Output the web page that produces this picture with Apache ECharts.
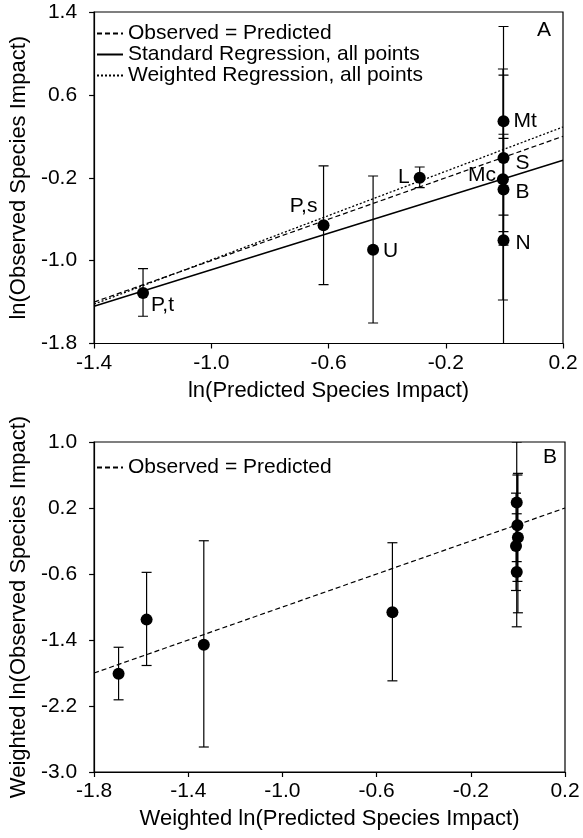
<!DOCTYPE html>
<html><head><meta charset="utf-8">
<script src="https://cdn.jsdelivr.net/npm/echarts@6/dist/echarts.min.js"></script>
<style>html,body{margin:0;padding:0;background:#fff}#c{width:583px;height:838px}</style>
</head><body><div id="c"></div>
<script>
// ---------- Panel A data ----------
const aNames = ['P,t','P,s','U','L','Mt','S','Mc','B','N'];
const aX     = [-1.233,-0.617,-0.448,-0.289,-0.003,-0.003,-0.005,-0.003,-0.003];
const aY     = [-1.312,-0.659,-0.894,-0.199, 0.345,-0.010,-0.215,-0.314,-0.804];
const aLow   = [-1.537,-1.232,-1.602,-0.295,-0.560,-0.720,-1.380,-0.850,-1.800];
const aHigh  = [-1.077,-0.086,-0.183,-0.096, 1.260, 0.790, 0.850, 0.220, 0.180];
const aOneToOne = [[-1.4,-1.4],[0.2,0.2]];
const aStdReg   = [[-1.4,-1.441],[0.2,-0.031]];
const aWtReg    = [[-1.4,-1.420],[0.2,0.290]];
const aXTicks = [-1.4,-1.0,-0.6,-0.2,0.2];
const aYTicks = [-1.8,-1.0,-0.2,0.6,1.4];
// ---------- Panel B data ----------
const bX    = [-1.696,-1.577,-1.334,-0.533,-0.005,-0.002, 0.000,-0.008,-0.005];
const bY    = [-1.810,-1.153,-1.459,-1.064, 0.266,-0.008,-0.157,-0.262,-0.576];
const bLow  = [-2.125,-1.709,-2.697,-1.895,-0.450,-0.690,-1.070,-0.800,-1.240];
const bHigh = [-1.488,-0.580,-0.197,-0.221, 1.000, 0.600, 0.620, 0.380, 0.130];
const bOneToOne = [[-1.8,-1.8],[0.2,0.2]];
const bXTicks = [-1.8,-1.4,-1.0,-0.6,-0.2,0.2];
const bYTicks = [-3.0,-2.2,-1.4,-0.6,0.2,1.0];

const legendA = ['Observed = Predicted','Standard Regression, all points','Weighted Regression, all points'];
const legendB = ['Observed = Predicted'];

// ---------- styling ----------
const FONT = "'Liberation Sans', Arial, Helvetica, sans-serif";
const labelPlace = {
  'P,t': {position:'right', distance:2, offset:[0,12]},
  'P,s': {position:'top', distance:3, offset:[-20,0]},
  'U':   {position:'right', distance:4, offset:[0,2]},
  'L':   {position:'left', distance:4},
  'Mt':  {position:'right', distance:4},
  'S':   {position:'right', distance:6, offset:[0,5]},
  'Mc':  {position:'left', distance:1, offset:[0,-4]},
  'B':   {position:'right', distance:6, offset:[0,3]},
  'N':   {position:'right', distance:6, offset:[0,3]}
};

function errRender(params, api){
  const x = api.value(0), lo = api.value(1), hi = api.value(2);
  const pLo = api.coord([x, lo]), pHi = api.coord([x, hi]);
  const w = 5;
  const style = {stroke:'#000', lineWidth:1.2, fill:null};
  return {type:'group', children:[
    {type:'line', shape:{x1:pLo[0],y1:pLo[1],x2:pHi[0],y2:pHi[1]}, style},
    {type:'line', shape:{x1:pLo[0]-w,y1:pLo[1],x2:pLo[0]+w,y2:pLo[1]}, style},
    {type:'line', shape:{x1:pHi[0]-w,y1:pHi[1],x2:pHi[0]+w,y2:pHi[1]}, style}
  ]};
}

function axis(gridIndex, min, max, ticks, isY, name, nameGap){
  return {
    type:'value', gridIndex, min, max,
    name, nameLocation:'middle', nameGap, nameRotate: isY ? 90 : 0,
    nameTextStyle:{fontFamily:FONT, fontSize:22, color:'#000'},
    axisLine:{show:true, onZero:false, lineStyle:{color:'#000', width:1.2}},
    axisTick:{show:true, inside:false, length:5, customValues:ticks, lineStyle:{color:'#000', width:1.2}},
    axisLabel:{customValues:ticks, formatter:v => v.toFixed(1), color:'#000', fontFamily:FONT, fontSize:21, margin: isY ? 17 : 9},
    splitLine:{show:false}
  };
}

const errA = aX.map((x,i)=>[x, aLow[i], aHigh[i]]);
const errB = bX.map((x,i)=>[x, bLow[i], bHigh[i]]);
const ptsA = aX.map((x,i)=>({value:[x, aY[i]], name:aNames[i],
  label:Object.assign({show:true, formatter:aNames[i], color:'#000', fontFamily:FONT, fontSize:21}, labelPlace[aNames[i]])}));
const ptsB = bX.map((x,i)=>[x, bY[i]]);

const lineBase = {type:'line', symbol:'none', silent:true, clip:true, animation:false};
const legendBase = {orient:'vertical', left:96, itemWidth:26, itemHeight:10, itemGap:0, padding:0, selectedMode:false,
  itemStyle:{opacity:0}, textStyle:{fontSize:21, fontFamily:FONT, color:'#000', lineHeight:19}};

const option = {
  animation:false,
  backgroundColor:'#fff',
  textStyle:{fontFamily:FONT},
  grid:[
    {left:83, top:12, width:480, height:331.5, show:true, borderColor:'#000', borderWidth:1.2, containLabel:false},
    {left:86, top:442, width:479, height:330, show:true, borderColor:'#000', borderWidth:1.2, containLabel:false}
  ],
  xAxis:[
    axis(0, -1.4, 0.2, aXTicks, false, 'ln(Predicted Species Impact)', 36),
    axis(1, -1.8, 0.2, bXTicks, false, 'Weighted ln(Predicted Species Impact)', 36)
  ],
  yAxis:[
    axis(0, -1.8, 1.4, aYTicks, true, 'ln(Observed Species Impact)', 51),
    axis(1, -3.0, 1.0, bYTicks, true, 'Weighted ln(Observed Species Impact)', 56)
  ],
  legend:[
    Object.assign({}, legendBase, {top:23, data:legendA}),
    Object.assign({}, legendBase, {top:457, data:legendB})
  ],
  graphic:[
    {type:'text', left:537, top:20, style:{text:'A', fontSize:21, fontFamily:FONT, fill:'#000'}},
    {type:'text', left:543, top:447, style:{text:'B', fontSize:21, fontFamily:FONT, fill:'#000'}}
  ],
  series:[
    Object.assign({}, lineBase, {name:legendA[0], xAxisIndex:0, yAxisIndex:0, data:aOneToOne,
      lineStyle:{color:'#000', width:1.2, type:[5,3]}, itemStyle:{color:'#000'}}),
    Object.assign({}, lineBase, {name:legendA[1], xAxisIndex:0, yAxisIndex:0, data:aStdReg,
      lineStyle:{color:'#000', width:1.5, type:'solid'}, itemStyle:{color:'#000'}}),
    Object.assign({}, lineBase, {name:legendA[2], xAxisIndex:0, yAxisIndex:0, data:aWtReg,
      lineStyle:{color:'#000', width:1.3, type:[2,2]}, itemStyle:{color:'#000'}}),
    {type:'custom', xAxisIndex:0, yAxisIndex:0, renderItem:errRender, data:errA, encode:{x:0, y:[1,2]}, clip:true, silent:true, z:3},
    {type:'scatter', xAxisIndex:0, yAxisIndex:0, data:ptsA, symbolSize:12, itemStyle:{color:'#000', opacity:1}, z:4, silent:true},

    Object.assign({}, lineBase, {name:legendB[0], xAxisIndex:1, yAxisIndex:1, data:bOneToOne,
      lineStyle:{color:'#000', width:1.2, type:[5,3]}, itemStyle:{color:'#000'}}),
    {type:'custom', xAxisIndex:1, yAxisIndex:1, renderItem:errRender, data:errB, encode:{x:0, y:[1,2]}, clip:true, silent:true, z:3},
    {type:'scatter', xAxisIndex:1, yAxisIndex:1, data:ptsB, symbolSize:12, itemStyle:{color:'#000', opacity:1}, z:4, silent:true}
  ]
};
const chart = echarts.init(document.getElementById('c'), null, {renderer:'canvas'});
chart.setOption(option);
</script></body></html>
